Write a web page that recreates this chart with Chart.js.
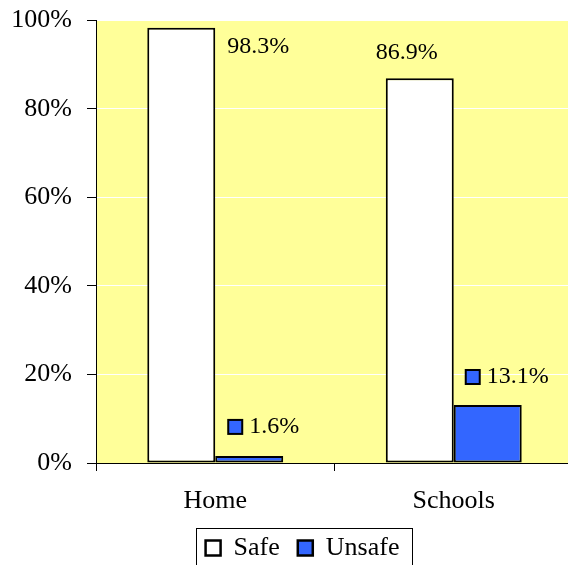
<!DOCTYPE html>
<html>
<head>
<meta charset="utf-8">
<script src="https://cdn.jsdelivr.net/npm/chart.js@4/dist/chart.umd.min.js"></script>
<style>
html,body{margin:0;padding:0;background:#fff;overflow:hidden;}
#wrap{width:568px;height:565px;position:relative;overflow:hidden;}
#c{position:absolute;left:0;top:0;}
</style>
</head>
<body>
<div id="wrap"><canvas id="c" width="576" height="565"></canvas></div>
<script>
const categories = ["Home", "Schools"];
const seriesNames = ["Safe", "Unsafe"];
const safeValues = [98.3, 86.9];
const unsafeValues = [1.6, 13.1];
const yTicks = [0, 20, 40, 60, 80, 100];

const FONT = "'Liberation Serif', 'Times New Roman', serif";
const BLUE = "#3366FF";
const PLOT_BG = "#FFFF99";
const LEGEND_SHIFT = 16;

const bgPlugin = {
  id: 'bg',
  beforeDraw(chart) {
    const {ctx, chartArea: a} = chart;
    ctx.save();
    ctx.fillStyle = PLOT_BG;
    ctx.fillRect(a.left, a.top, a.right - a.left, a.bottom - a.top);
    ctx.restore();
  }
};

const labelPlugin = {
  id: 'labels',
  afterDatasetsDraw(chart) {
    const ctx = chart.ctx;
    ctx.save();
    ctx.font = "24px " + FONT;
    ctx.textBaseline = 'middle';
    chart.data.datasets.forEach((ds, di) => {
      const meta = chart.getDatasetMeta(di);
      meta.data.forEach((el, i) => {
        const v = ds.data[i];
        const txt = v.toFixed(1) + '%';
        const x = el.x, y = el.y;
        ctx.fillStyle = '#000';
        if (di === 0) {
          if (i === 0) {
            ctx.textAlign = 'left';
            ctx.fillText(txt, x + 46, y + 19);
          } else {
            ctx.textAlign = 'center';
            ctx.fillText(txt, x - 13, y - 26);
          }
        } else {
          const bx = x - 21 - (i === 1 ? 1 : 0);
          const by = y - 29 - 7 + (i === 1 ? 1 : 0);
          ctx.fillStyle = ds.backgroundColor;
          ctx.fillRect(bx, by, 14, 14);
          ctx.lineWidth = 2;
          ctx.strokeStyle = '#000';
          ctx.strokeRect(bx, by, 14, 14);
          ctx.fillStyle = '#000';
          ctx.textAlign = 'left';
          ctx.fillText(txt, bx + 21, by + 7);
        }
      });
    });
    ctx.restore();
  }
};

const legendPlugin = {
  id: 'legendTweak',
  afterLayout(chart) {
    const lg = chart.legend;
    if (!lg) return;
    lg.left += LEGEND_SHIFT;
    lg.right += LEGEND_SHIFT;
  },
  afterDraw(chart) {
    const lg = chart.legend;
    if (!lg || !lg.legendHitBoxes || !lg.legendHitBoxes.length) return;
    const hb = lg.legendHitBoxes;
    let l = Infinity, r = -Infinity, t = Infinity, b = -Infinity;
    hb.forEach(h => {
      l = Math.min(l, h.left); r = Math.max(r, h.left + h.width);
      t = Math.min(t, h.top); b = Math.max(b, h.top + h.height);
    });
    const ctx = chart.ctx;
    ctx.save();
    ctx.strokeStyle = '#000';
    ctx.lineWidth = 1;
    ctx.strokeRect(Math.round(l - 10) + 0.5, Math.round(t - 7) + 0.5, Math.round(r - l + 22), Math.round(b - t + 30));
    ctx.restore();
  }
};

function build() {
  new Chart(document.getElementById('c'), {
    type: 'bar',
    data: {
      labels: categories,
      datasets: [
        {label: seriesNames[0], data: safeValues, backgroundColor: '#FFFFFF', borderColor: '#000', borderWidth: 2, borderSkipped: false},
        {label: seriesNames[1], data: unsafeValues, backgroundColor: BLUE, borderColor: '#000', borderWidth: 2, borderSkipped: false}
      ]
    },
    options: {
      responsive: false,
      animation: false,
      devicePixelRatio: 1,
      layout: {padding: {top: 0, right: 3, left: 0, bottom: -6}},
      datasets: {bar: {categoryPercentage: 0.57, barPercentage: 1.0}},
      scales: {
        x: {
          grid: {drawOnChartArea: false, tickColor: '#000', tickLength: 8, offset: true},
          border: {color: '#000', width: 1},
          ticks: {font: {family: FONT, size: 26}, color: '#000', padding: 15},
          afterFit(s) { s.height = 54; }
        },
        y: {
          min: 0, max: 100,
          afterBuildTicks(s) { s.ticks = yTicks.map(v => ({value: v})); },
          grid: {color: '#FFFFFF', tickColor: '#000', tickLength: 9, lineWidth: 1},
          border: {color: '#000', width: 1},
          ticks: {font: {family: FONT, size: 26, lineHeight: 0.4}, color: '#000', padding: 15, callback: v => v + '%'},
          afterFit(s) { s.width = 96; }
        }
      },
      plugins: {
        legend: {
          position: 'bottom',
          labels: {
            font: {family: FONT, size: 26},
            color: '#000',
            boxWidth: 15, boxHeight: 15,
            padding: 18,
            generateLabels(chart) {
              return chart.data.datasets.map((ds, i) => ({
                text: ds.label, fillStyle: ds.backgroundColor, strokeStyle: '#000', lineWidth: 2.5,
                hidden: false, datasetIndex: i, fontColor: '#000'
              }));
            }
          }
        },
        tooltip: {enabled: false}
      }
    },
    plugins: [bgPlugin, labelPlugin, legendPlugin]
  });
}

if (document.fonts && document.fonts.load) {
  document.fonts.load("24px 'Liberation Serif'").then(build, build);
} else {
  build();
}
</script>
</body>
</html>
